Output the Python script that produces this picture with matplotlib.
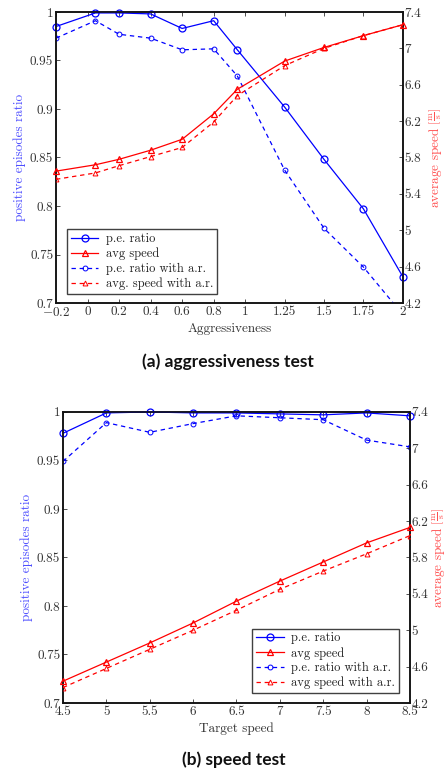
import matplotlib
matplotlib.use("Agg")
import matplotlib.pyplot as plt

plt.rcParams["font.family"] = "serif"
plt.rcParams["font.serif"] = ["cmr10"]
plt.rcParams["mathtext.fontset"] = "cm"
plt.rcParams["axes.unicode_minus"] = False

# (a) aggressiveness test
aggr_x = [-0.2, 0.05, 0.2, 0.4, 0.6, 0.8, 0.95, 1.25, 1.5, 1.75, 2.0]
aggr_ratio = [0.985, 0.999, 0.999, 0.998, 0.983, 0.991, 0.961, 0.902, 0.848, 0.797, 0.727]
aggr_speed = [5.65, 5.72, 5.78, 5.88, 6.00, 6.28, 6.55, 6.86, 7.01, 7.14, 7.26]
aggr_ratio_ar = [0.973, 0.991, 0.977, 0.973, 0.961, 0.962, 0.934, 0.837, 0.777, 0.737, 0.688]
aggr_speed_ar = [5.56, 5.63, 5.71, 5.81, 5.91, 6.19, 6.48, 6.81, 7.00, 7.14, 7.26]
aggr_ticks = [-0.2, 0, 0.2, 0.4, 0.6, 0.8, 1, 1.25, 1.5, 1.75, 2]
aggr_ticklabels = ["$-0.2$", "0", "0.2", "0.4", "0.6", "0.8", "1", "1.25", "1.5", "1.75", "2"]

# (b) speed test
speed_x = [4.5, 5, 5.5, 6, 6.5, 7, 7.5, 8, 8.5]
speed_ratio = [0.978, 0.999, 1.0, 0.999, 0.999, 0.998, 0.997, 0.999, 0.996]
speed_speed = [4.44, 4.65, 4.86, 5.08, 5.32, 5.54, 5.75, 5.96, 6.13]
speed_ratio_ar = [0.949, 0.989, 0.979, 0.988, 0.996, 0.994, 0.992, 0.971, 0.964]
speed_speed_ar = [4.37, 4.58, 4.79, 5.00, 5.22, 5.45, 5.65, 5.84, 6.04]
speed_ticks = [4.5, 5, 5.5, 6, 6.5, 7, 7.5, 8, 8.5]
speed_ticklabels = ["4.5", "5", "5.5", "6", "6.5", "7", "7.5", "8", "8.5"]

ratio_ticks = [0.7, 0.75, 0.8, 0.85, 0.9, 0.95, 1.0]
ratio_ticklabels = ["0.7", "0.75", "0.8", "0.85", "0.9", "0.95", "1"]
speed_axis_ticks = [4.2, 4.6, 5.0, 5.4, 5.8, 6.2, 6.6, 7.0, 7.4]
speed_axis_ticklabels = ["4.2", "4.6", "5", "5.4", "5.8", "6.2", "6.6", "7", "7.4"]

BLUE = "#0000ff"
RED = "#ff0000"
LBLUE = "#4d4dff"
LRED = "#ff4d4d"


def draw_panel(ax, x, ratio, speed, ratio_ar, speed_ar, xticks, xticklabels,
               xlabel, legend_labels, legend_loc, legend_anchor, rpad):
    ax2 = ax.twinx()

    l1, = ax.plot(x, ratio, color=BLUE, lw=0.9, marker="o", ms=5,
                  mfc="none", mew=0.9, clip_on=False, zorder=5)
    l3, = ax.plot(x, ratio_ar, color=BLUE, lw=0.9, ls=(0, (3.5, 3)),
                  marker="o", ms=3.5, mfc="none", mew=0.7, zorder=5)
    l2, = ax2.plot(x, speed, color=RED, lw=0.9, marker="^", ms=5,
                   mfc="none", mew=0.9, clip_on=False, zorder=5)
    l4, = ax2.plot(x, speed_ar, color=RED, lw=0.9, ls=(0, (3.5, 3)),
                   marker="^", ms=3.5, mfc="none", mew=0.7, zorder=5)

    ax.set_xlim(xticks[0], xticks[-1])
    ax.set_ylim(0.7, 1.0)
    ax2.set_ylim(4.2, 7.4)

    ax.set_xticks(xticks)
    ax.set_xticklabels(xticklabels)
    ax.set_yticks(ratio_ticks)
    ax.set_yticklabels(ratio_ticklabels)
    ax2.set_yticks(speed_axis_ticks)
    ax2.set_yticklabels(speed_axis_ticklabels)

    ax.tick_params(axis="x", direction="in", top=True, length=3, width=0.6,
                   labelsize=9.5, colors="#333333", pad=2)
    ax.tick_params(axis="y", direction="in", length=3, width=0.6,
                   labelsize=9.5, colors="#333333", pad=2)
    ax2.tick_params(axis="y", direction="in", length=3, width=0.6,
                    labelsize=9.5, colors="#333333", pad=1)

    for a in (ax, ax2):
        for s in a.spines.values():
            s.set_linewidth(1.1)
            s.set_color("#111111")

    ax.set_xlabel(xlabel, fontsize=9.5, color="#333333", labelpad=3)
    ax.set_ylabel("positive episodes ratio", fontsize=9.5, color=LBLUE, labelpad=3)
    ax2.set_ylabel(r"average speed $\left[\frac{\mathrm{m}}{\mathrm{s}}\right]$",
                   fontsize=9.5, color=LRED, labelpad=rpad)

    leg = ax.legend([l1, l2, l3, l4], legend_labels, loc=legend_loc,
                    bbox_to_anchor=legend_anchor, fontsize=9,
                    frameon=True, fancybox=False, edgecolor="#111111",
                    handlelength=2.2, handletextpad=0.6, labelspacing=0.2,
                    borderpad=0.3, borderaxespad=0)
    leg.get_frame().set_linewidth(1.0)
    leg.set_zorder(10)
    for t in leg.get_texts():
        t.set_color("#222222")
    return ax2


fig = plt.figure(figsize=(4.47, 7.72), dpi=100)

ax_a = fig.add_axes([0.1253, 0.6075, 0.776, 0.377])
draw_panel(ax_a, aggr_x, aggr_ratio, aggr_speed, aggr_ratio_ar, aggr_speed_ar,
           aggr_ticks, aggr_ticklabels, "Aggressiveness",
           ["p.e. ratio", "avg speed", "p.e. ratio with a.r.", "avg. speed with a.r."],
           "lower left", (0.032, 0.031), 4)

ax_b = fig.add_axes([0.141, 0.0894, 0.776, 0.377])
draw_panel(ax_b, speed_x, speed_ratio, speed_speed, speed_ratio_ar, speed_speed_ar,
           speed_ticks, speed_ticklabels, "Target speed",
           ["p.e. ratio", "avg speed", "p.e. ratio with a.r.", "avg speed with a.r."],
           "lower right", (0.968, 0.034), 1)

fig.text(0.509, 0.531, "(a) aggressiveness test", ha="center", va="center",
         fontsize=12.5, fontweight="bold", family="Lato", color="#111111")
fig.text(0.524, 0.0155, "(b) speed test", ha="center", va="center",
         fontsize=12.5, fontweight="bold", family="Lato", color="#111111")

fig.savefig("out.png", dpi=100)
